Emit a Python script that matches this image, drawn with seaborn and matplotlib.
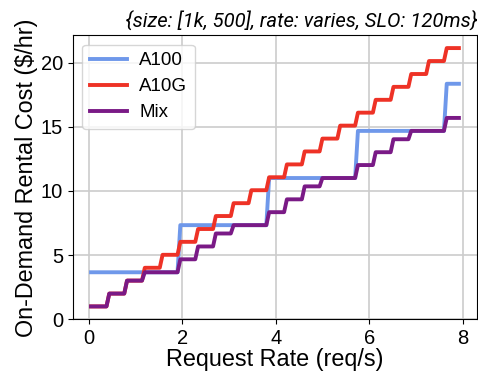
import numpy as np
import matplotlib
matplotlib.use("Agg")
import matplotlib.pyplot as plt
import seaborn as sns

plt.rcParams["font.family"] = ["Liberation Sans", "DejaVu Sans"]

# request-rate range covered by the sweep (req/s)
rate_start = 0.05
rate_end = 7.92

# A100: one GPU per ~1.9 req/s
a100_breaks = [1.9, 3.8, 5.7, 7.6]
a100_costs = [3.67, 7.34, 11.01, 14.68, 18.35]

# A10G: one GPU per ~0.38 req/s
a10g_breaks = [0.38, 0.76, 1.14, 1.52, 1.9, 2.28, 2.66, 3.04, 3.42, 3.8,
               4.18, 4.56, 4.94, 5.32, 5.7, 6.08, 6.46, 6.84, 7.22, 7.6]
a10g_costs = [1.01, 2.01, 3.02, 4.02, 5.03, 6.04, 7.04, 8.05, 9.05, 10.06, 11.07,
              12.07, 13.08, 14.08, 15.09, 16.10, 17.10, 18.11, 19.11, 20.12, 21.13]

# Mix of A100 + A10G
mix_breaks = [0.38, 0.76, 1.14, 1.9, 2.28, 2.66, 3.04, 3.8, 4.18, 4.56, 4.94,
              5.7, 6.08, 6.46, 6.84, 7.6]
mix_costs = [1.01, 2.01, 3.02, 3.67, 4.68, 5.68, 6.69, 7.34, 8.35, 9.35, 10.36,
             11.01, 12.02, 13.02, 14.03, 14.68, 15.69]

series_names = ["A100", "A10G", "Mix"]
series_colors = ["#6f98ea", "#ee3226", "#7a1a86"]


def step_points(breaks, costs, riser=0.06):
    # turn breakpoints + cost levels into a stepped line with short sloped risers
    starts = [rate_start] + [b + riser for b in breaks]
    ends = list(breaks) + [rate_end]
    xs, ys = [], []
    for s, e, c in zip(starts, ends, costs):
        xs += [s, e]
        ys += [c, c]
    return np.array(xs), np.array(ys)


fig, ax = plt.subplots(figsize=(4.78, 3.74), dpi=100)
fig.subplots_adjust(left=0.152, right=0.9985, top=0.906, bottom=0.146)

all_series = [(a100_breaks, a100_costs), (a10g_breaks, a10g_costs), (mix_breaks, mix_costs)]
for name, color, (brk, cst) in zip(series_names, series_colors, all_series):
    x, y = step_points(brk, cst)
    sns.lineplot(x=x, y=y, ax=ax, color=color, linewidth=2.8, label=name,
                 sort=False, estimator=None)

ax.set_ylim(bottom=0)
ax.set_xticks([0, 2, 4, 6, 8])
ax.set_yticks([0, 5, 10, 15, 20])
ax.tick_params(labelsize=14.5)
ax.grid(True, color="#cccccc", linewidth=1.2)
ax.set_axisbelow(True)

ax.set_xlabel("Request Rate (req/s)", fontsize=16.8, labelpad=0)
ax.set_ylabel("On-Demand Rental Cost ($/hr)", fontsize=16.8, labelpad=2)
ax.set_title("{size: [1k, 500], rate: varies, SLO: 120ms}", loc="right",
             fontsize=14.6, family="Roboto", style="italic", pad=6)

ax.legend(loc="upper left", fontsize=13.5, handlelength=2.0, handletextpad=0.65,
          labelspacing=0.48)

fig.savefig("out.png", dpi=100)
